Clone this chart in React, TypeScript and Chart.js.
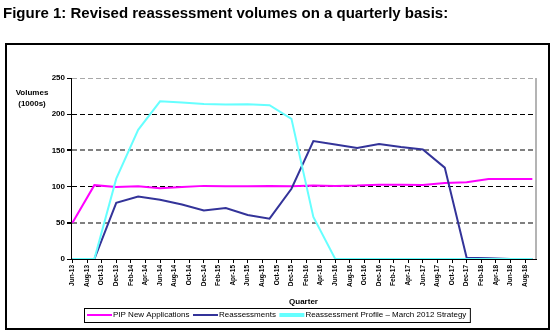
import { useEffect, useRef } from 'react';
import { Chart, registerables } from 'chart.js';

Chart.register(...registerables);

const FONT = "'Liberation Sans', Arial, sans-serif";
const TITLE = 'Figure 1: Revised reassessment volumes on a quarterly basis:';

const quarters = [
  'Jun-13', 'Sep-13', 'Dec-13', 'Mar-14', 'Jun-14', 'Sep-14', 'Dec-14', 'Mar-15',
  'Jun-15', 'Sep-15', 'Dec-15', 'Mar-16', 'Jun-16', 'Sep-16', 'Dec-16', 'Mar-17',
  'Jun-17', 'Sep-17', 'Dec-17', 'Mar-18', 'Jun-18', 'Sep-18',
];

const pipNewApplications = [
  50, 102, 99.6, 100.4, 97.8, 99.6, 101, 100.4, 100.4, 101, 100.5, 101.4,
  101, 101.4, 102.7, 102.7, 102.3, 105, 106, 110.5, 110.5, 110.5,
];

const reassessments = [
  0, 0, 77.6, 86.3, 81.7, 75.3, 67.1, 70.3, 60.7, 55.7, 97, 162.8,
  158.2, 153.2, 158.7, 154.6, 151.4, 126.2, 1.8, 1, 0, 0,
];

const reassessmentProfile = [
  0, 0, 111, 178.5, 217.8, 216, 214.2, 213.3, 213.7, 212.4, 193.6, 58.2,
  0, 0, 0, 0, 0, 0, 0, 0, 0, 0,
];

const tickLabels = [
  'Jun-13', 'Aug-13', 'Oct-13', 'Dec-13', 'Feb-14', 'Apr-14', 'Jun-14', 'Aug-14',
  'Oct-14', 'Dec-14', 'Feb-15', 'Apr-15', 'Jun-15', 'Aug-15', 'Oct-15', 'Dec-15',
  'Feb-16', 'Apr-16', 'Jun-16', 'Aug-16', 'Oct-16', 'Dec-16', 'Feb-17', 'Apr-17',
  'Jun-17', 'Aug-17', 'Oct-17', 'Dec-17', 'Feb-18', 'Apr-18', 'Jun-18', 'Aug-18',
];

const seriesNames = [
  'PIP New Applications',
  'Reassessments',
  'Reassessment Profile \u2013 March 2012 Strategy',
];
const seriesColors = ['#FF00FF', '#333399', '#66FFFF'];
const legendLineWidths = [2, 2, 4];

const MONTHS: Record<string, number> = {
  Jan: 0, Feb: 1, Mar: 2, Apr: 3, May: 4, Jun: 5, Jul: 6, Aug: 7, Sep: 8, Oct: 9, Nov: 10, Dec: 11,
};
const monthOffset = (label: string) => {
  const [m, y] = label.split('-');
  return (parseInt(y, 10) - 13) * 12 + MONTHS[m] - 5;
};

const toPoints = (vals: number[]) => vals.map((v, i) => ({ x: monthOffset(quarters[i]), y: v }));

const decorPlugin = {
  id: 'decor',
  beforeDraw(chart: any) {
    const ctx = chart.ctx;
    ctx.save();
    ctx.fillStyle = '#fff';
    ctx.fillRect(0, 0, chart.width, chart.height);
    ctx.restore();
  },
  afterDraw(chart: any) {
    const ctx = chart.ctx;
    const { top, right, bottom } = chart.chartArea;
    ctx.save();
    // title
    ctx.fillStyle = '#000';
    ctx.font = `bold 15px ${FONT}`;
    ctx.textAlign = 'left';
    ctx.textBaseline = 'alphabetic';
    ctx.fillText(TITLE, 3, 18);
    // outer frame
    ctx.lineWidth = 2;
    ctx.strokeStyle = '#000';
    ctx.strokeRect(6, 44, 543, 285);
    // plot area right border
    ctx.strokeStyle = '#b4b4b4';
    ctx.lineWidth = 2;
    ctx.beginPath();
    ctx.moveTo(right, top);
    ctx.lineTo(right, bottom);
    ctx.stroke();
    // y axis caption
    ctx.fillStyle = '#000';
    ctx.font = `bold 8px ${FONT}`;
    ctx.textAlign = 'center';
    ctx.textBaseline = 'middle';
    ctx.fillText('Volumes', 32, 92.5);
    ctx.fillText('(1000s)', 32, 103.5);
    // legend
    ctx.font = `8px ${FONT}`;
    ctx.textAlign = 'left';
    const ly = 315;
    let x = 87;
    chart.data.datasets.forEach((ds: any, i: number) => {
      ctx.strokeStyle = ds.borderColor;
      ctx.lineWidth = legendLineWidths[i];
      ctx.beginPath();
      ctx.moveTo(x, ly);
      ctx.lineTo(x + 25, ly);
      ctx.stroke();
      ctx.fillStyle = '#000';
      ctx.fillText(ds.label, x + 26, ly);
      x += 26 + ctx.measureText(ds.label).width + 3.5;
    });
    ctx.lineWidth = 1;
    ctx.strokeStyle = '#000';
    ctx.strokeRect(84.5, 308.5, x - 3.5 + 4 - 84.5, 14);
    ctx.restore();
  },
};

export default function App() {
  const ref = useRef<HTMLCanvasElement | null>(null);

  useEffect(() => {
    if (!ref.current) return;
    document.body.style.margin = '0';
    Chart.defaults.font.family = FONT;
    const valuesList = [pipNewApplications, reassessments, reassessmentProfile];
    const chart = new Chart(ref.current, {
      type: 'line',
      data: {
        datasets: valuesList.map((vals, i) => ({
          label: seriesNames[i],
          data: toPoints(vals),
          borderColor: seriesColors[i],
          backgroundColor: seriesColors[i],
          borderWidth: 2,
          pointRadius: 0,
          tension: 0,
          fill: false,
          order: 2 - i,
        })),
      },
      options: {
        animation: false,
        responsive: false,
        devicePixelRatio: 1,
        layout: { padding: { left: 0, right: 18, top: 78, bottom: 0 } },
        plugins: {
          legend: { display: false },
          tooltip: { enabled: false },
          title: { display: false },
        },
        scales: {
          x: {
            type: 'linear',
            min: -0.2,
            max: 63.5,
            afterBuildTicks: (scale: any) => {
              scale.ticks = tickLabels.map((_, i) => ({ value: i * 2 }));
            },
            afterFit: (scale: any) => {
              scale.height = 73;
            },
            ticks: {
              autoSkip: false,
              minRotation: 90,
              maxRotation: 90,
              padding: 2,
              color: '#000',
              font: { size: 6.5, weight: 'bold' },
              callback: (_v: any, index: number) => tickLabels[index],
            },
            grid: {
              drawOnChartArea: false,
              drawTicks: true,
              tickLength: 4,
              color: '#000',
              tickColor: '#000',
            },
            border: { display: true, color: '#000', width: 1 },
            title: {
              display: true,
              text: 'Quarter',
              color: '#000',
              font: { size: 8, weight: 'bold' },
              padding: { top: 0, bottom: 25 },
            },
          },
          y: {
            type: 'linear',
            min: 0,
            max: 250,
            afterFit: (scale: any) => {
              scale.width = 71;
            },
            ticks: {
              stepSize: 50,
              padding: 2,
              color: '#000',
              font: { size: 8, weight: 'bold' },
            },
            grid: {
              drawTicks: true,
              tickLength: 4,
              tickColor: '#000',
              color: (c: any) => {
                const v = c.tick ? c.tick.value : 0;
                if (v === 0) return 'rgba(0,0,0,0)';
                if (v === 250) return '#a8a8a8';
                if (v === 150 || v === 50) return '#808080';
                return '#000';
              },
              lineWidth: (c: any) => {
                const v = c.tick ? c.tick.value : 0;
                if (v === 150 || v === 50) return 2;
                return 1;
              },
            },
            border: { display: true, color: '#000', width: 1, dash: [5, 3] },
          },
        },
      },
      plugins: [decorPlugin],
    });
    return () => chart.destroy();
  }, []);

  return (
    <div style={{ position: 'fixed', left: 0, top: 0, width: 554, height: 332 }}>
      <canvas ref={ref} width={554} height={332} style={{ display: 'block', width: 554, height: 332 }} />
    </div>
  );
}
